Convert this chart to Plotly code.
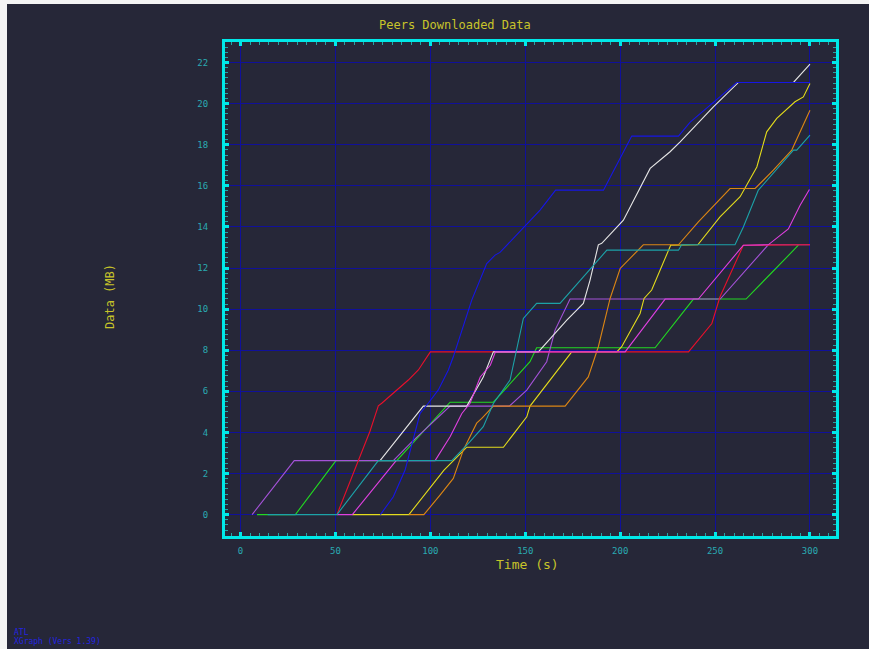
import plotly.graph_objects as go

# ---- series: time (s) and downloaded data (MB) per peer ----
green_t = [8.7, 28.9, 50.3, 82.3, 110.4, 133.2, 152.5, 156.0, 218.4, 238.6, 266.3, 293.9]
green_y = [0, 0, 2.63, 2.63, 5.47, 5.47, 7.44, 8.12, 8.12, 10.49, 10.49, 13.11]

violet_t = [6.1, 28.3, 80.5, 89.3, 110.4, 141.6, 150.8, 161.3, 165.7, 173.6, 252.7, 278.0, 300]
violet_y = [0, 2.63, 2.63, 3.46, 5.28, 5.28, 6.06, 7.44, 8.98, 10.49, 10.49, 13.13, 13.13]

yellow_t = [58.9, 88.7, 107.2, 119.2, 138.5, 150.8, 152.5, 174.5, 198.2, 200.8, 210.5, 212.6,
            216.6, 226.6, 240.9, 252.6, 263.2, 272.0, 277.2, 282.5, 292.1, 296.5, 300]
yellow_y = [0, 0, 2.17, 3.28, 3.28, 4.76, 5.28, 7.92, 7.92, 8.17, 9.79, 10.52,
            10.93, 13.11, 13.13, 14.49, 15.47, 16.92, 18.63, 19.28, 20.09, 20.33, 20.98]

orange_t = [88.7, 96.6, 105.1, 112.1, 117.4, 124.4, 127.1, 133.2, 171.0, 183.2, 188.5, 194.7,
            200.0, 205.2, 212.2, 230.7, 241.2, 257.9, 271.1, 280.7, 290.4, 300]
orange_y = [0, 0, 0.95, 1.76, 3.15, 4.45, 4.68, 5.28, 5.28, 6.7, 8.17, 10.52,
            11.98, 12.47, 13.13, 13.13, 14.25, 15.87, 15.87, 16.76, 17.74, 19.68]

red_t = [50.8, 68.2, 72.6, 74.4, 88.4, 93.7, 100.0, 236.0, 248.3, 252.6, 264.9, 300]
red_y = [0, 4.06, 5.3, 5.42, 6.55, 7.04, 7.92, 7.92, 9.3, 10.6, 13.11, 13.13]

white_t = [73.5, 96.3, 119.2, 127.9, 133.2, 156.9, 171.9, 180.6, 184.1, 188.5, 190.3, 201.7,
           215.8, 226.3, 231.6, 249.1, 262.3, 291.3, 300]
white_y = [2.63, 5.28, 5.28, 6.7, 7.92, 7.92, 9.46, 10.28, 11.4, 13.13, 13.2, 14.33,
           16.85, 17.66, 18.14, 19.84, 21.03, 21.03, 21.92]

magenta_t = [50.8, 58.9, 82.0, 102.5, 110.4, 116.6, 120.9, 126.3, 131.6, 134.3, 202.6, 223.7,
             241.2, 264.9, 278.0, 288.6, 294.8, 299.7]
magenta_y = [0, 0, 2.63, 2.63, 3.79, 4.92, 5.42, 6.7, 7.27, 7.92, 7.92, 10.49,
             10.49, 13.11, 13.13, 13.9, 15.06, 15.82]

teal_t = [14.3, 50.8, 72.6, 111.3, 120.9, 127.9, 133.2, 142.0, 149.0, 156.0, 168.3, 193.0,
          230.7, 232.4, 260.5, 264.9, 272.8, 291.3, 293.0, 300]
teal_y = [0, 0, 2.63, 2.63, 3.55, 4.28, 5.41, 6.55, 9.55, 10.28, 10.28, 12.87,
          12.87, 13.13, 13.13, 14.0, 15.79, 17.74, 17.74, 18.47]

blue_t = [73.7, 80.5, 86.7, 94.6, 98.9, 104.2, 109.5, 112.1, 121.8, 129.7, 134.1, 136.7,
          157.8, 166.0, 191.2, 206.1, 230.7, 236.9, 261.4, 300]
blue_y = [0, 0.87, 2.17, 4.93, 5.42, 6.07, 7.04, 7.68, 10.44, 12.22, 12.63, 12.76,
          14.82, 15.79, 15.79, 18.42, 18.42, 19.1, 21.03, 21.03]

x_ticks = [0, 50, 100, 150, 200, 250, 300]
y_ticks = [0, 2, 4, 6, 8, 10, 12, 14, 16, 18, 20, 22]

# drawing order: first listed is at the bottom
series = [
    (green_t, green_y, "#22d822"),
    (violet_t, violet_y, "#a452d8"),
    (yellow_t, yellow_y, "#e4dc1c"),
    (orange_t, orange_y, "#dc8614"),
    (red_t, red_y, "#e8102c"),
    (white_t, white_y, "#e6e6e6"),
    (magenta_t, magenta_y, "#e040e0"),
    (teal_t, teal_y, "#1ca2a8"),
    (blue_t, blue_y, "#1616e6"),
]

W, H = 869, 649
L, R, T, B = 225, 836, 42, 536
BG = "#262738"
CYAN = "#00e8e8"
LABEL = "#2aaab2"
YELLOW = "#c8c42a"


def px(x):
    return (x - L) / (R - L)


def py(y):
    return (B - y) / (B - T)


fig = go.Figure()
for t, y, c in series:
    fig.add_trace(go.Scatter(x=t, y=y, mode="lines",
                             line=dict(color=c, width=1.1), hoverinfo="skip"))

axis_common = dict(
    showline=True, linecolor=CYAN, linewidth=3, mirror="ticks",
    ticks="inside", ticklen=4, tickwidth=3, tickcolor=CYAN,
    showgrid=True, gridcolor="#10109a", gridwidth=1, zeroline=False,
    tickfont=dict(family="DejaVu Sans Mono", size=9, color=LABEL),
)

minor_common = dict(ticks="inside", ticklen=3, tickwidth=1, tickcolor="#22a6a6",
                    showgrid=False, gridcolor=BG)

fig.update_xaxes(range=[-8.17, 313.7], tickvals=x_ticks,
                 minor=dict(dtick=5, tick0=0, **minor_common),
                 ticklabelstandoff=4, **axis_common)
fig.update_yaxes(range=[-1.04, 23.0], tickvals=y_ticks,
                 minor=dict(dtick=0.25, tick0=0, **minor_common),
                 ticklabelstandoff=12, **axis_common)

annotations = [
    dict(text="Peers Downloaded Data", x=px(455), y=py(25),
         font=dict(family="DejaVu Sans Mono", size=12, color=YELLOW)),
    dict(text="Time (s)", x=px(527), y=py(564),
         font=dict(family="DejaVu Sans Mono", size=13, color=YELLOW)),
    dict(text="Data (MB)", x=px(110), y=py(297), textangle=-90,
         font=dict(family="DejaVu Sans Mono", size=12, color=YELLOW)),
    dict(text="ATL", x=px(12), y=py(632), xanchor="left",
         font=dict(family="DejaVu Sans Mono", size=8, color="#2424e0")),
    dict(text="XGraph (Vers 1.39)", x=px(12), y=py(641), xanchor="left",
         font=dict(family="DejaVu Sans Mono", size=8, color="#2424e0")),
]
for a in annotations:
    a.update(xref="paper", yref="paper", showarrow=False)
    a.setdefault("xanchor", "center")
    a.setdefault("yanchor", "middle")

# light page strip along the top and left edges
shapes = [
    dict(type="rect", xref="paper", yref="paper", x0=px(0), x1=px(W), y0=py(4), y1=py(0),
         fillcolor="#f4f4f4", line=dict(width=0), layer="above"),
    dict(type="rect", xref="paper", yref="paper", x0=px(0), x1=px(7), y0=py(H), y1=py(0),
         fillcolor="#f4f4f4", line=dict(width=0), layer="above"),
]

fig.update_layout(
    width=W, height=H,
    margin=dict(l=L, r=W - R, t=T, b=H - B),
    paper_bgcolor=BG, plot_bgcolor=BG,
    showlegend=False,
    annotations=annotations, shapes=shapes,
)

fig.write_html("out.html")
